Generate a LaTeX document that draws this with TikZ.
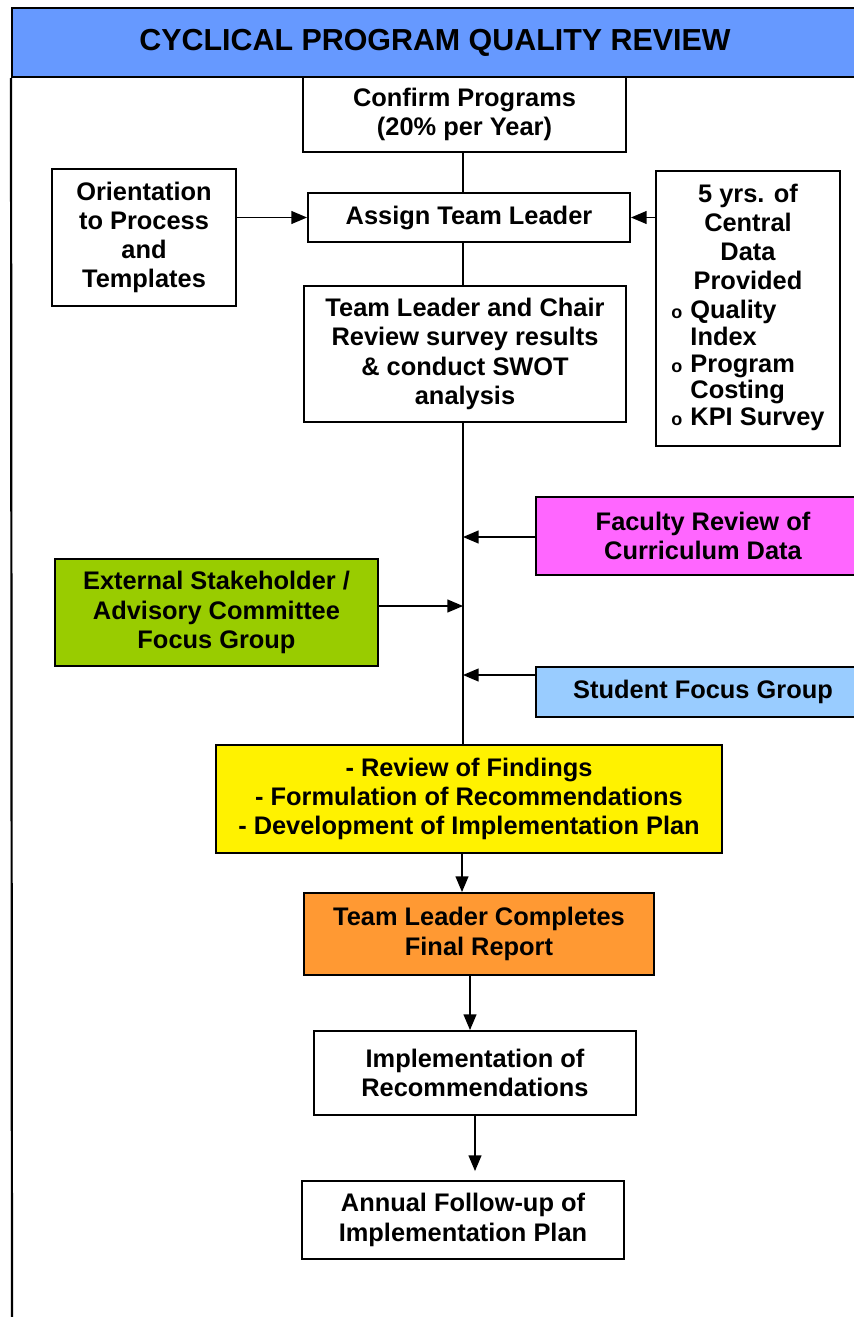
\documentclass[tikz,border=0pt]{standalone}
\usepackage{fontspec}
\setmainfont{Liberation Sans}
\usepackage{tikz}
\usetikzlibrary{positioning, calc, arrows}
\tikzset{>=triangle 45}
\definecolor{titleblue}{HTML}{6699FF}
\definecolor{facultypink}{HTML}{FF66FF}
\definecolor{externalgreen}{HTML}{99CC00}
\definecolor{studentblue}{HTML}{99CCFF}
\definecolor{reportorange}{HTML}{FF9933}

\begin{document}
\begin{tikzpicture}[x=0.5pt, y=-0.5pt,
    box/.style={draw, line width=1pt, align=center, inner sep=2pt,
      font=\fontsize{12.7}{14.6}\selectfont\bfseries},
    link/.style={line width=0.8pt}]
    \useasboundingbox (0,0) rectangle (854,1317);

    % frame and title
    \node[box, fill=titleblue, minimum width=423pt, minimum height=34.5pt,
      font=\fontsize{15.2}{17}\selectfont\bfseries] (title) at (435,42.5)
      {CYCLICAL PROGRAM QUALITY REVIEW};
    \draw[line width=1.1pt] (title.south west) -- (12,1317);

    % main column
    \node[box, minimum width=161.5pt, minimum height=37.5pt] (confirm) at (464.5,114.5)
      {Confirm Programs\\(20\% per Year)};
    \node[box, minimum width=161pt, minimum height=24.5pt] (assign) at (469,217.5)
      {Assign Team Leader};
    \node[box, minimum width=161pt, minimum height=68pt] (chair) at (465,354)
      {Team Leader and Chair\\Review survey results\\\& conduct SWOT\\analysis};

    \node[box, minimum width=92pt, minimum height=68.5pt] (orient) at (144,237.5)
      {Orientation\\to Process\\and\\Templates};
    \node[box, minimum width=92pt, minimum height=137.5pt] (data) at (748,308.5)
      {5 yrs. of\\Central\\Data\\Provided\\
      \renewcommand{\arraystretch}{0.91}%
      \begin{tabular}[t]{@{}c@{\hspace{4pt}}l@{}}
        {\small o} & Quality\\
                   & Index\\
        {\small o} & Program\\
                   & Costing\\
        {\small o} & KPI Survey
      \end{tabular}};

    % inputs to the review
    \node[box, fill=facultypink, minimum width=167pt, minimum height=39pt] (faculty) at (703,536)
      {Faculty Review of\\Curriculum Data};
    \node[box, fill=externalgreen, minimum width=161.5pt, minimum height=53.5pt] (external) at (216.5,612.5)
      {External Stakeholder /\\Advisory Committee\\Focus Group};
    \node[box, fill=studentblue, minimum width=167pt, minimum height=25pt] (student) at (703,692)
      {Student Focus Group};

    \node[box, fill=yellow, minimum width=253pt, minimum height=54pt] (findings) at (469,799)
      {- Review of Findings\\- Formulation of Recommendations\\- Development of Implementation Plan};
    \node[box, fill=reportorange, minimum width=175pt, minimum height=41pt] (report) at (479,934)
      {Team Leader Completes\\Final Report};
    \node[box, minimum width=161pt, minimum height=42pt] (implement) at (475,1073)
      {Implementation of\\Recommendations};
    \node[box, minimum width=161pt, minimum height=39pt] (annual) at (463,1220)
      {Annual Follow-up of\\Implementation Plan};

    \coordinate (inF) at (463,537);
    \coordinate (inE) at (463,606);
    \coordinate (inS) at (463,675);

    \draw[link] (confirm.south -| inF) -- (assign.north -| inF);
    \draw[link] (assign.south -| inF) -- (chair.north -| inF);
    \draw[link] (chair.south -| inF) -- (findings.north -| inF);
    \draw[link, ->] (assign.west -| orient.east) -- (assign.west);
    \draw[link, ->] (assign.east -| data.west) -- (assign.east);

    \draw[link, ->] (faculty.west |- inF) -- (inF);
    \draw[link, ->] (external.east |- inE) -- (inE);
    \draw[link, ->] (student.west |- inS) -- (inS);

    \draw[link, ->] ([xshift=-3.5pt]findings.south) -- ([xshift=-3.5pt]findings.south |- report.north);
    \draw[link, ->] ([xshift=-4.5pt]report.south) -- ([xshift=-4.5pt]report.south |- implement.north);
    \draw[link, ->, shorten >=4.5pt] (implement.south) -- (implement.south |- annual.north);
\end{tikzpicture}
\end{document}
